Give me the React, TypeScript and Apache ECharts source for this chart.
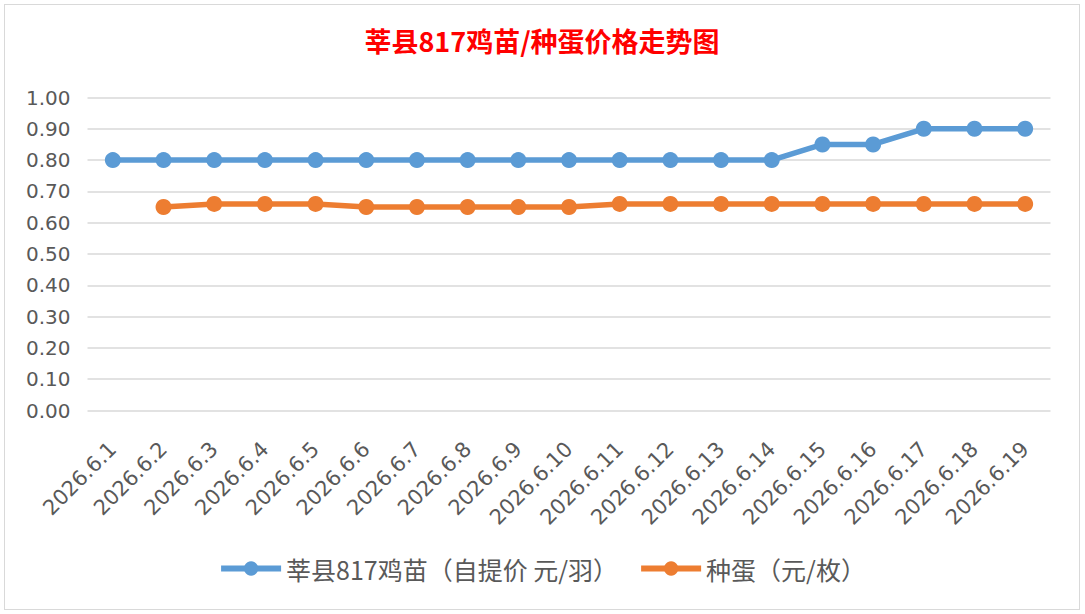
import * as echarts from "echarts";
import { useEffect, useRef } from "react";

const dates = [
  "2026.6.1", "2026.6.2", "2026.6.3", "2026.6.4", "2026.6.5", "2026.6.6",
  "2026.6.7", "2026.6.8", "2026.6.9", "2026.6.10", "2026.6.11", "2026.6.12",
  "2026.6.13", "2026.6.14", "2026.6.15", "2026.6.16", "2026.6.17", "2026.6.18",
  "2026.6.19",
];

const chickPrice = [
  0.8, 0.8, 0.8, 0.8, 0.8, 0.8, 0.8, 0.8, 0.8, 0.8, 0.8, 0.8, 0.8, 0.8,
  0.85, 0.85, 0.9, 0.9, 0.9,
];

const eggPrice = [
  null, 0.65, 0.66, 0.66, 0.66, 0.65, 0.65, 0.65, 0.65, 0.65, 0.66, 0.66,
  0.66, 0.66, 0.66, 0.66, 0.66, 0.66, 0.66,
];

const chickName = "莘县817鸡苗（自提价 元/羽）";
const eggName = "种蛋（元/枚）";

const cjk = "'Noto Sans CJK SC', 'Noto Sans', sans-serif";
const num = "'DejaVu Sans', sans-serif";

export default function App() {
  const ref = useRef<HTMLDivElement>(null);

  useEffect(() => {
    if (!ref.current) return;
    const chart = echarts.init(ref.current, undefined, { renderer: "svg" });

    chart.setOption({
      animation: false,
      textStyle: { fontFamily: cjk },
      title: {
        text: "{a|莘县}{b|817}{a|鸡苗/种蛋价格走势图}",
        left: "center",
        top: 17,
        textStyle: {
          rich: {
            a: { color: "#ff0000", fontSize: 27, fontFamily: cjk },
            b: { color: "#ff0000", fontSize: 27, fontWeight: "bold", fontFamily: cjk },
          },
        },
      },
      legend: {
        bottom: 23,
        left: "center",
        itemWidth: 60,
        itemHeight: 18,
        itemGap: 20,
        lineStyle: { width: 6 },
        textStyle: { color: "#595959", fontSize: 25, fontFamily: cjk },
        data: [chickName, eggName],
      },
      grid: { left: 82.5, right: 28.5, top: 92.5, bottom: 198.5 },
      xAxis: {
        type: "category",
        data: dates,
        boundaryGap: true,
        axisLine: { show: false },
        axisTick: { show: false },
        axisLabel: {
          rotate: 45,
          color: "#595959",
          fontSize: 21,
          margin: 35,
          interval: 0,
          fontFamily: num,
        },
      },
      yAxis: {
        type: "value",
        min: 0,
        max: 1,
        interval: 0.1,
        axisLabel: {
          color: "#595959",
          fontSize: 20,
          margin: 17,
          formatter: (v: number) => v.toFixed(2),
          fontFamily: num,
        },
        splitLine: { lineStyle: { color: "#d9d9d9", width: 1.5 } },
      },
      series: [
        {
          name: chickName,
          type: "line",
          data: chickPrice,
          symbol: "circle",
          symbolSize: 16,
          lineStyle: { color: "#5b9bd5", width: 5.5 },
          itemStyle: { color: "#5b9bd5" },
        },
        {
          name: eggName,
          type: "line",
          data: eggPrice,
          symbol: "circle",
          symbolSize: 16,
          lineStyle: { color: "#ed7d31", width: 5.5 },
          itemStyle: { color: "#ed7d31" },
        },
      ],
    });

    return () => chart.dispose();
  }, []);

  return (
    <div style={{ position: "absolute", left: 0, top: 0, width: 1085, height: 614, background: "#fff" }}>
      <div
        ref={ref}
        style={{
          position: "absolute",
          left: 4,
          top: 4,
          width: 1076,
          height: 606,
          boxSizing: "border-box",
          border: "1.5px solid #d9d9d9",
        }}
      />
    </div>
  );
}
